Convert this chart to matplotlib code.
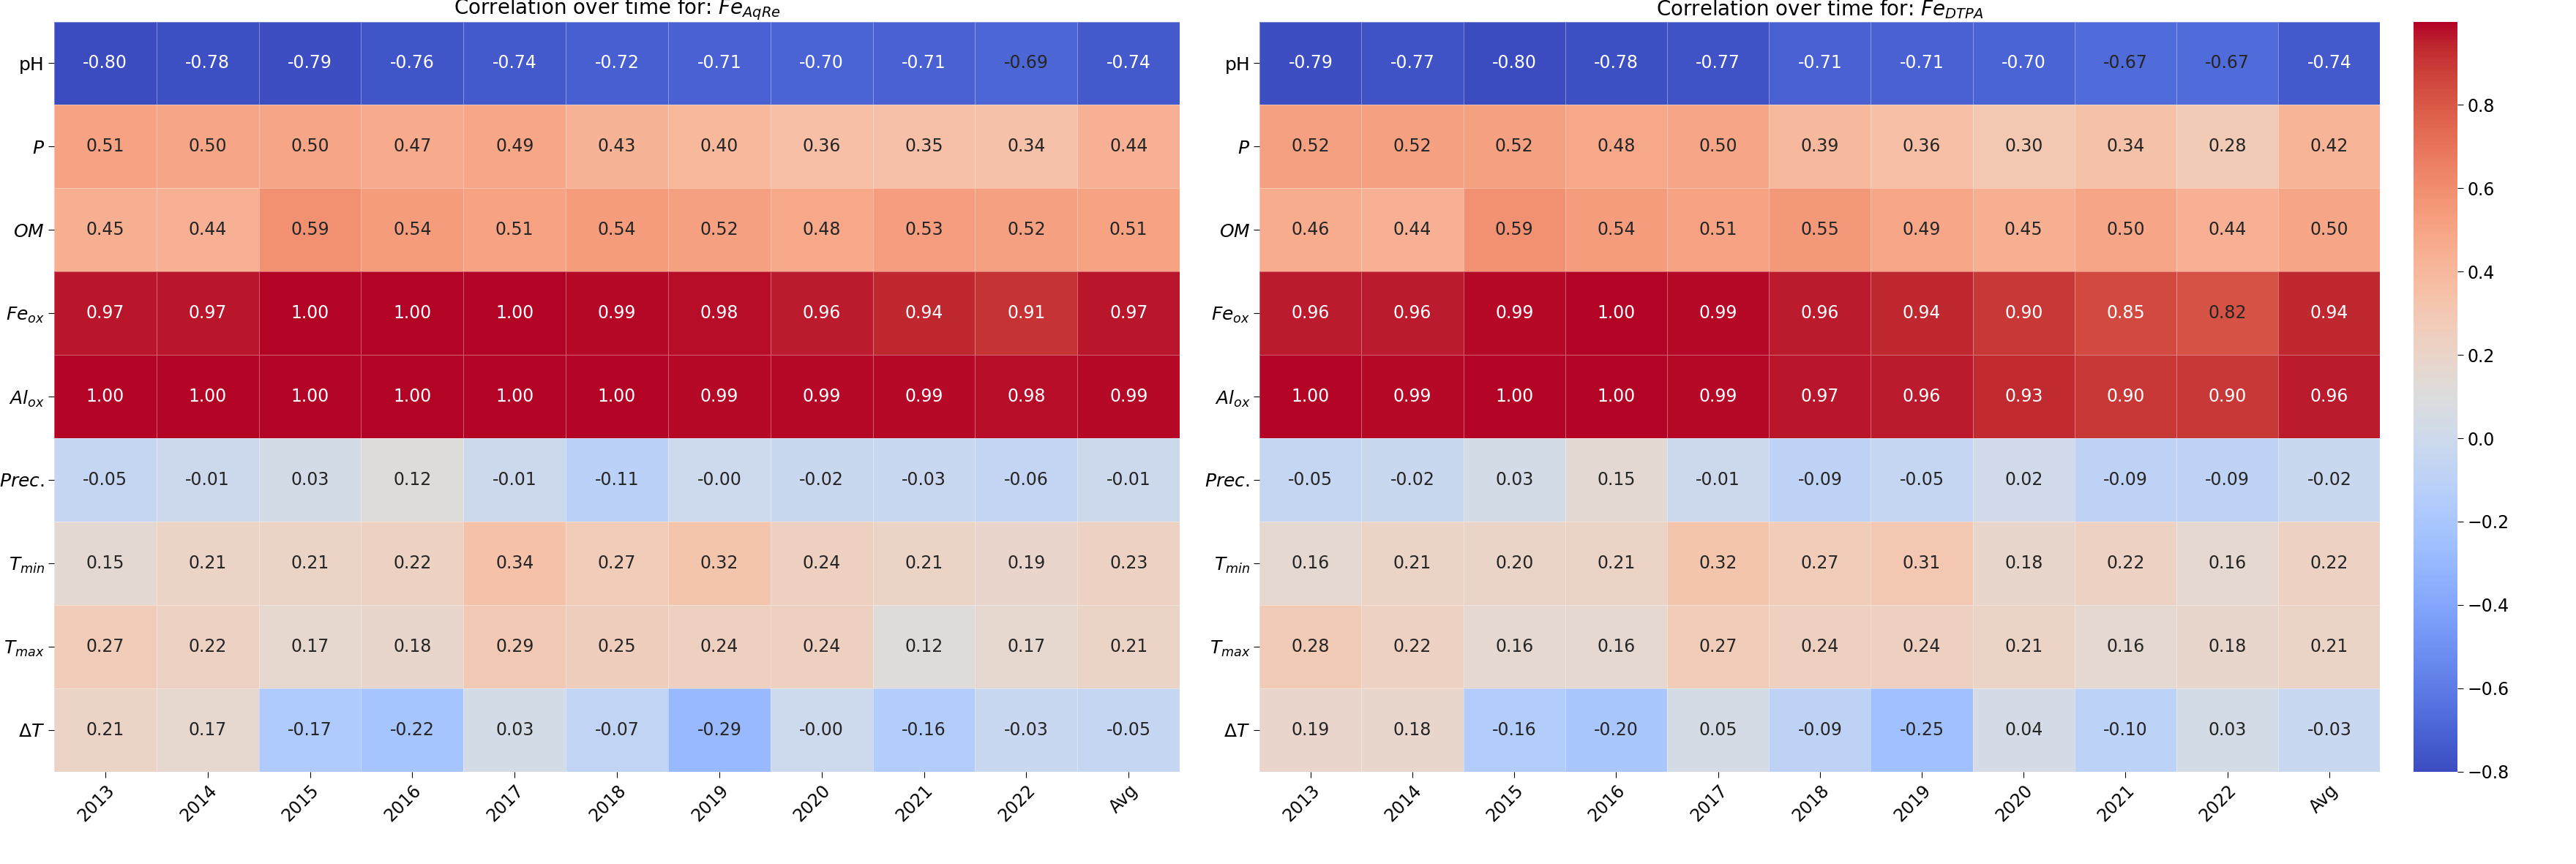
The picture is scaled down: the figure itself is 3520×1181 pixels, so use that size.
import numpy as np
import matplotlib
matplotlib.use("Agg")
import matplotlib.pyplot as plt

# ── Data ──────────────────────────────────────────────────────
years = ["2013", "2014", "2015", "2016", "2017", "2018", "2019", "2020", "2021", "2022", "Avg"]
rows = ["pH", "$P$", "$OM$", "$Fe_{ox}$", "$Al_{ox}$", "$Prec.$", "$T_{min}$", "$T_{max}$", r"$\Delta T$"]

fe_aqre = [
    [-0.80, -0.78, -0.79, -0.76, -0.74, -0.72, -0.71, -0.70, -0.71, -0.69, -0.74],
    [0.51, 0.50, 0.50, 0.47, 0.49, 0.43, 0.40, 0.36, 0.35, 0.34, 0.44],
    [0.45, 0.44, 0.59, 0.54, 0.51, 0.54, 0.52, 0.48, 0.53, 0.52, 0.51],
    [0.97, 0.97, 1.00, 1.00, 1.00, 0.99, 0.98, 0.96, 0.94, 0.91, 0.97],
    [1.00, 1.00, 1.00, 1.00, 1.00, 1.00, 0.99, 0.99, 0.99, 0.98, 0.99],
    [-0.05, -0.01, 0.03, 0.12, -0.01, -0.11, -0.00, -0.02, -0.03, -0.06, -0.01],
    [0.15, 0.21, 0.21, 0.22, 0.34, 0.27, 0.32, 0.24, 0.21, 0.19, 0.23],
    [0.27, 0.22, 0.17, 0.18, 0.29, 0.25, 0.24, 0.24, 0.12, 0.17, 0.21],
    [0.21, 0.17, -0.17, -0.22, 0.03, -0.07, -0.29, -0.00, -0.16, -0.03, -0.05],
]
fe_dtpa = [
    [-0.79, -0.77, -0.80, -0.78, -0.77, -0.71, -0.71, -0.70, -0.67, -0.67, -0.74],
    [0.52, 0.52, 0.52, 0.48, 0.50, 0.39, 0.36, 0.30, 0.34, 0.28, 0.42],
    [0.46, 0.44, 0.59, 0.54, 0.51, 0.55, 0.49, 0.45, 0.50, 0.44, 0.50],
    [0.96, 0.96, 0.99, 1.00, 0.99, 0.96, 0.94, 0.90, 0.85, 0.82, 0.94],
    [1.00, 0.99, 1.00, 1.00, 0.99, 0.97, 0.96, 0.93, 0.90, 0.90, 0.96],
    [-0.05, -0.02, 0.03, 0.15, -0.01, -0.09, -0.05, 0.02, -0.09, -0.09, -0.02],
    [0.16, 0.21, 0.20, 0.21, 0.32, 0.27, 0.31, 0.18, 0.22, 0.16, 0.22],
    [0.28, 0.22, 0.16, 0.16, 0.27, 0.24, 0.24, 0.21, 0.16, 0.18, 0.21],
    [0.19, 0.18, -0.16, -0.20, 0.05, -0.09, -0.25, 0.04, -0.10, 0.03, -0.03],
]
titles = ["Correlation over time for: $Fe_{AqRe}$", "Correlation over time for: $Fe_{DTPA}$"]

VMIN, VMAX = -0.8, 1.0
cmap = plt.get_cmap("coolwarm")

fig = plt.figure(figsize=(35.2, 11.81), dpi=100)
axes = [fig.add_axes([0.021, 0.107, 0.437, 0.868]),
        fig.add_axes([0.489, 0.107, 0.435, 0.868])]
cax = fig.add_axes([0.937, 0.107, 0.017, 0.868])

for ax, data, title in zip(axes, [fe_aqre, fe_dtpa], titles):
    arr = np.array(data)
    mesh = ax.pcolormesh(arr, cmap=cmap, vmin=VMIN, vmax=VMAX,
                         edgecolor=(1, 1, 1, 0.35), linewidth=0.6)
    ax.set_xlim(0, arr.shape[1])
    ax.set_ylim(arr.shape[0], 0)
    for i in range(arr.shape[0]):
        for j in range(arr.shape[1]):
            v = arr[i, j]
            r, g, b, _ = cmap((v - VMIN) / (VMAX - VMIN))
            lum = 0.2126 * r + 0.7152 * g + 0.0722 * b
            ax.text(j + 0.5, i + 0.5, f"{v:.2f}", ha="center", va="center",
                    fontsize=17, color="white" if lum < 0.408 else "#262626")
    ax.set_xticks(np.arange(arr.shape[1]) + 0.5)
    ax.set_xticklabels(years, rotation=45, ha="right", rotation_mode="anchor", fontsize=17)
    ax.set_yticks(np.arange(arr.shape[0]) + 0.5)
    ax.set_yticklabels(rows, fontsize=18)
    ax.tick_params(length=6)
    for s in ax.spines.values():
        s.set_visible(False)
    ax.set_title(title, fontsize=20, pad=6)

cb = fig.colorbar(mesh, cax=cax)
cb.set_ticks(np.arange(-0.8, 0.81, 0.2))
cb.ax.tick_params(labelsize=17, length=6)
cb.outline.set_visible(False)

plt.savefig("out.png", dpi=100)
